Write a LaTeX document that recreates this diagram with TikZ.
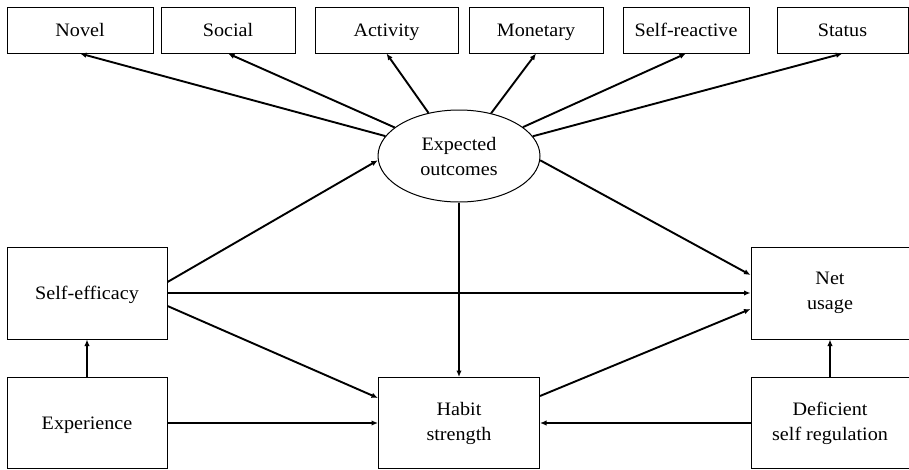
\documentclass[tikz,border=0pt]{standalone}
\usepackage{fontspec}
\setmainfont{Liberation Serif}[FakeStretch=1.06]
\usetikzlibrary{shapes.geometric,arrows.meta}
\begin{document}
\begin{tikzpicture}[x=1pt,y=-1pt,
  every node/.style={font=\fontsize{19}{25}\selectfont, inner sep=0pt},
  box/.style={draw, line width=1pt, fill=white},
  oneline/.style={text height=14pt, text depth=2pt},
  twoline/.style={align=center},
  oval/.style={draw, ellipse, line width=1pt, fill=white, minimum width=162pt, minimum height=92pt, align=center},
  arr/.style={line width=1.9pt, -{Latex[length=6.5pt,width=5.5pt]}}]
\useasboundingbox (0,0) rectangle (909,469);

% outcome categories along the top
\node[box, oneline, minimum width=146pt, minimum height=46pt] (novel)    at (80,30)    {Novel};
\node[box, oneline, minimum width=134pt, minimum height=46pt] (social)   at (228,30)   {Social};
\node[box, oneline, minimum width=143pt, minimum height=46pt] (activity) at (386.5,30) {Activity};
\node[box, oneline, minimum width=134pt, minimum height=46pt] (monetary) at (536,30)   {Monetary};
\node[box, oneline, minimum width=126pt, minimum height=46pt] (selfreac) at (686,30)   {Self-reactive};
\node[box, oneline, minimum width=131pt, minimum height=46pt] (status)   at (842.5,30) {Status};

% central construct
\node[oval] (eo) at (459,156) {Expected\\outcomes};

% lower constructs
\node[box, oneline, minimum width=160pt, minimum height=92pt] (se)    at (87,293)   {Self-efficacy};
\node[box, oneline, minimum width=160pt, minimum height=91pt] (exper) at (87,423)   {Experience};
\node[box, twoline, minimum width=161pt, minimum height=91pt] (habit) at (459,423)  {Habit\\strength};
\node[box, twoline, minimum width=158pt, minimum height=92pt] (nu)    at (830,293)  {Net\\usage};
\node[box, twoline, minimum width=158pt, minimum height=91pt] (dsr)   at (830,423)  {Deficient\\self regulation};

% expected outcomes to its categories
\draw[arr] (eo) -- (novel.south);
\draw[arr] (eo) -- (social.south);
\draw[arr] (eo) -- (activity.south);
\draw[arr] (eo) -- (monetary.south);
\draw[arr] (eo) -- (selfreac.south);
\draw[arr] (eo) -- (status.south);

% structural paths
\draw[arr] ([yshift=11pt]se.east) -- (eo.183);
\draw[arr] (se.east) -- (nu.west);
\draw[arr] ([yshift=-13pt]se.east) -- ([yshift=25pt]habit.west);
\draw[arr] (exper.east) -- (habit.west);
\draw[arr] (exper.north) -- (se.south);
\draw[arr] (eo.south) -- (habit.north);
\draw[arr] (eo.357) -- ([yshift=18pt]nu.west);
\draw[arr] ([yshift=27pt]habit.east) -- ([yshift=-16pt]nu.west);
\draw[arr] (dsr.north) -- (nu.south);
\draw[arr] (dsr.west) -- (habit.east);
\end{tikzpicture}
\end{document}
